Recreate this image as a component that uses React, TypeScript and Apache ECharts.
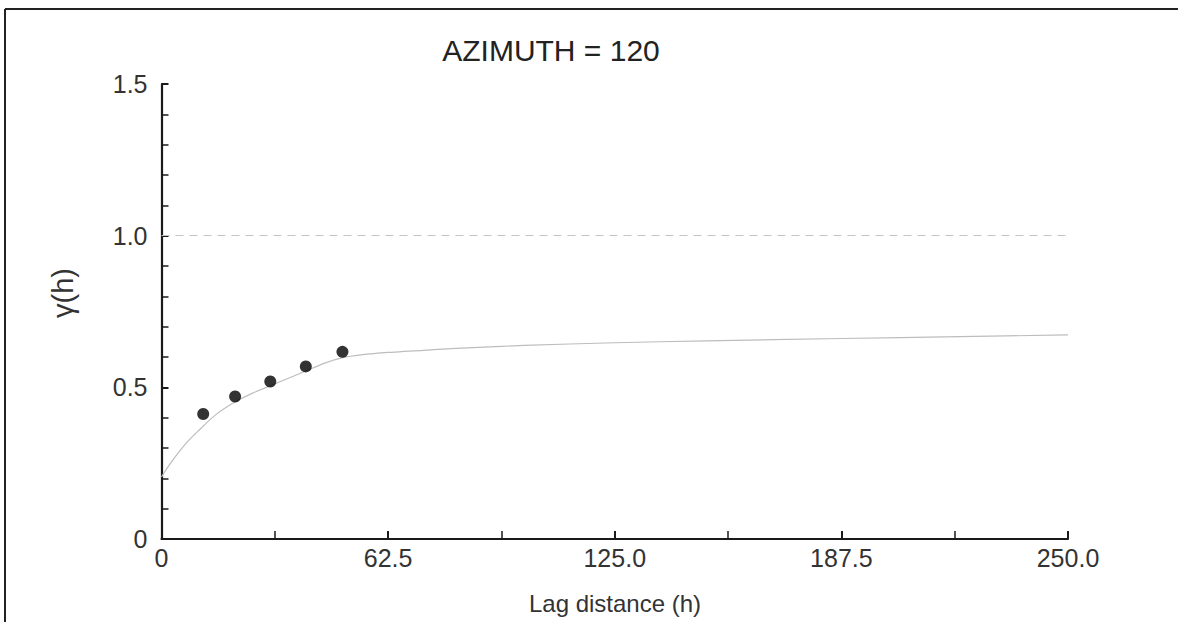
import React, { useEffect, useRef } from "react";
import * as echarts from "echarts";

// Experimental variogram points
const lagH = [11.5, 20.3, 30.0, 39.8, 49.9];
const gammaExp = [0.412, 0.47, 0.519, 0.569, 0.617];

// Fitted model curve
const modelH = [0, 2.5, 5, 7.5, 10, 15, 20, 25, 30, 35, 40, 45, 50, 55, 62.5, 75, 87.5, 100, 125, 150, 187.5, 220, 250];
const modelG = [0.205, 0.25, 0.29, 0.325, 0.355, 0.41, 0.45, 0.48, 0.505, 0.53, 0.555, 0.58, 0.598, 0.607, 0.615, 0.624, 0.632, 0.638, 0.647, 0.653, 0.661, 0.667, 0.673];

const sill = 1.0;
const xTicks = [0, 62.5, 125, 187.5, 250];
const yTicks = [0, 0.5, 1.0, 1.5];

const titleText = "AZIMUTH = 120";
const xName = "Lag distance (h)";
const yName = "γ(h)";

const FONT = "'Liberation Sans', Arial, Helvetica, sans-serif";

export default function App() {
  const ref = useRef<HTMLDivElement>(null);
  useEffect(() => {
    if (!ref.current) return;
    const chart = echarts.init(ref.current, null, { renderer: "svg" });
    chart.setOption({
      animation: false,
      backgroundColor: "#ffffff",
      grid: { left: 161.5, top: 84, right: 110, bottom: 83, containLabel: false },
      xAxis: {
        type: "value",
        min: xTicks[0],
        max: xTicks[xTicks.length - 1],
        interval: 62.5,
        axisLine: { show: true, lineStyle: { color: "#1a1a1a", width: 2.2 } },
        axisTick: { show: true, inside: true, length: 8, lineStyle: { color: "#1a1a1a", width: 2 } },
        minorTick: { show: true, splitNumber: 2, length: 8, lineStyle: { color: "#1a1a1a", width: 1.5 } },
        splitLine: { show: false },
        axisLabel: {
          color: "#333",
          fontFamily: FONT,
          fontSize: 25,
          margin: 6,
          formatter: (v: number) => (v === 0 ? "0" : v.toFixed(1)),
        },
      },
      yAxis: {
        type: "value",
        min: yTicks[0],
        max: yTicks[yTicks.length - 1],
        interval: 0.5,
        axisLine: { show: true, lineStyle: { color: "#1a1a1a", width: 2.2 } },
        axisTick: { show: true, inside: true, length: 7, lineStyle: { color: "#1a1a1a", width: 2 } },
        minorTick: { show: true, splitNumber: 5, length: 7, lineStyle: { color: "#1a1a1a", width: 1.5 } },
        splitLine: { show: false },
        axisLabel: {
          color: "#333",
          fontFamily: FONT,
          fontSize: 25,
          margin: 14,
          formatter: (v: number) => (v === 0 ? "0" : v.toFixed(1)),
        },
      },
      series: [
        {
          type: "line",
          data: modelH.map((h, i) => [h, modelG[i]]),
          smooth: 0.3,
          showSymbol: false,
          lineStyle: { color: "#bdbdbd", width: 1.2 },
          z: 2,
          markLine: {
            silent: true,
            symbol: "none",
            label: { show: false },
            lineStyle: { color: "#c4c4c4", type: [8, 6], width: 1.2 },
            data: [{ yAxis: sill }],
          },
        },
        {
          type: "scatter",
          data: lagH.map((h, i) => [h, gammaExp[i]]),
          symbol: "circle",
          symbolSize: 12,
          itemStyle: { color: "#000" },
          z: 3,
        },
      ],
      graphic: [
        {
          type: "line",
          shape: { x1: 5, y1: 9, x2: 1178, y2: 9 },
          style: { stroke: "#222", lineWidth: 2 },
          silent: true,
        },
        {
          type: "line",
          shape: { x1: 5, y1: 9, x2: 5, y2: 622 },
          style: { stroke: "#222", lineWidth: 2 },
          silent: true,
        },
        {
          type: "text",
          x: 551,
          y: 50,
          style: {
            text: titleText,
            font: `30px ${FONT}`,
            fill: "#222",
            textAlign: "center",
            textVerticalAlign: "middle",
          },
        },
        {
          type: "text",
          x: 615,
          y: 603,
          style: {
            text: xName,
            font: `24px ${FONT}`,
            fill: "#333",
            textAlign: "center",
            textVerticalAlign: "middle",
          },
        },
        {
          type: "text",
          x: 63,
          y: 293,
          rotation: Math.PI / 2,
          style: {
            text: yName,
            font: `29px ${FONT}`,
            fill: "#333",
            textAlign: "center",
            textVerticalAlign: "middle",
          },
        },
      ],
    });
    return () => chart.dispose();
  }, []);
  return (
    <div
      ref={ref}
      style={{ position: "fixed", left: 0, top: 0, width: 1178, height: 622, background: "#fff" }}
    />
  );
}
